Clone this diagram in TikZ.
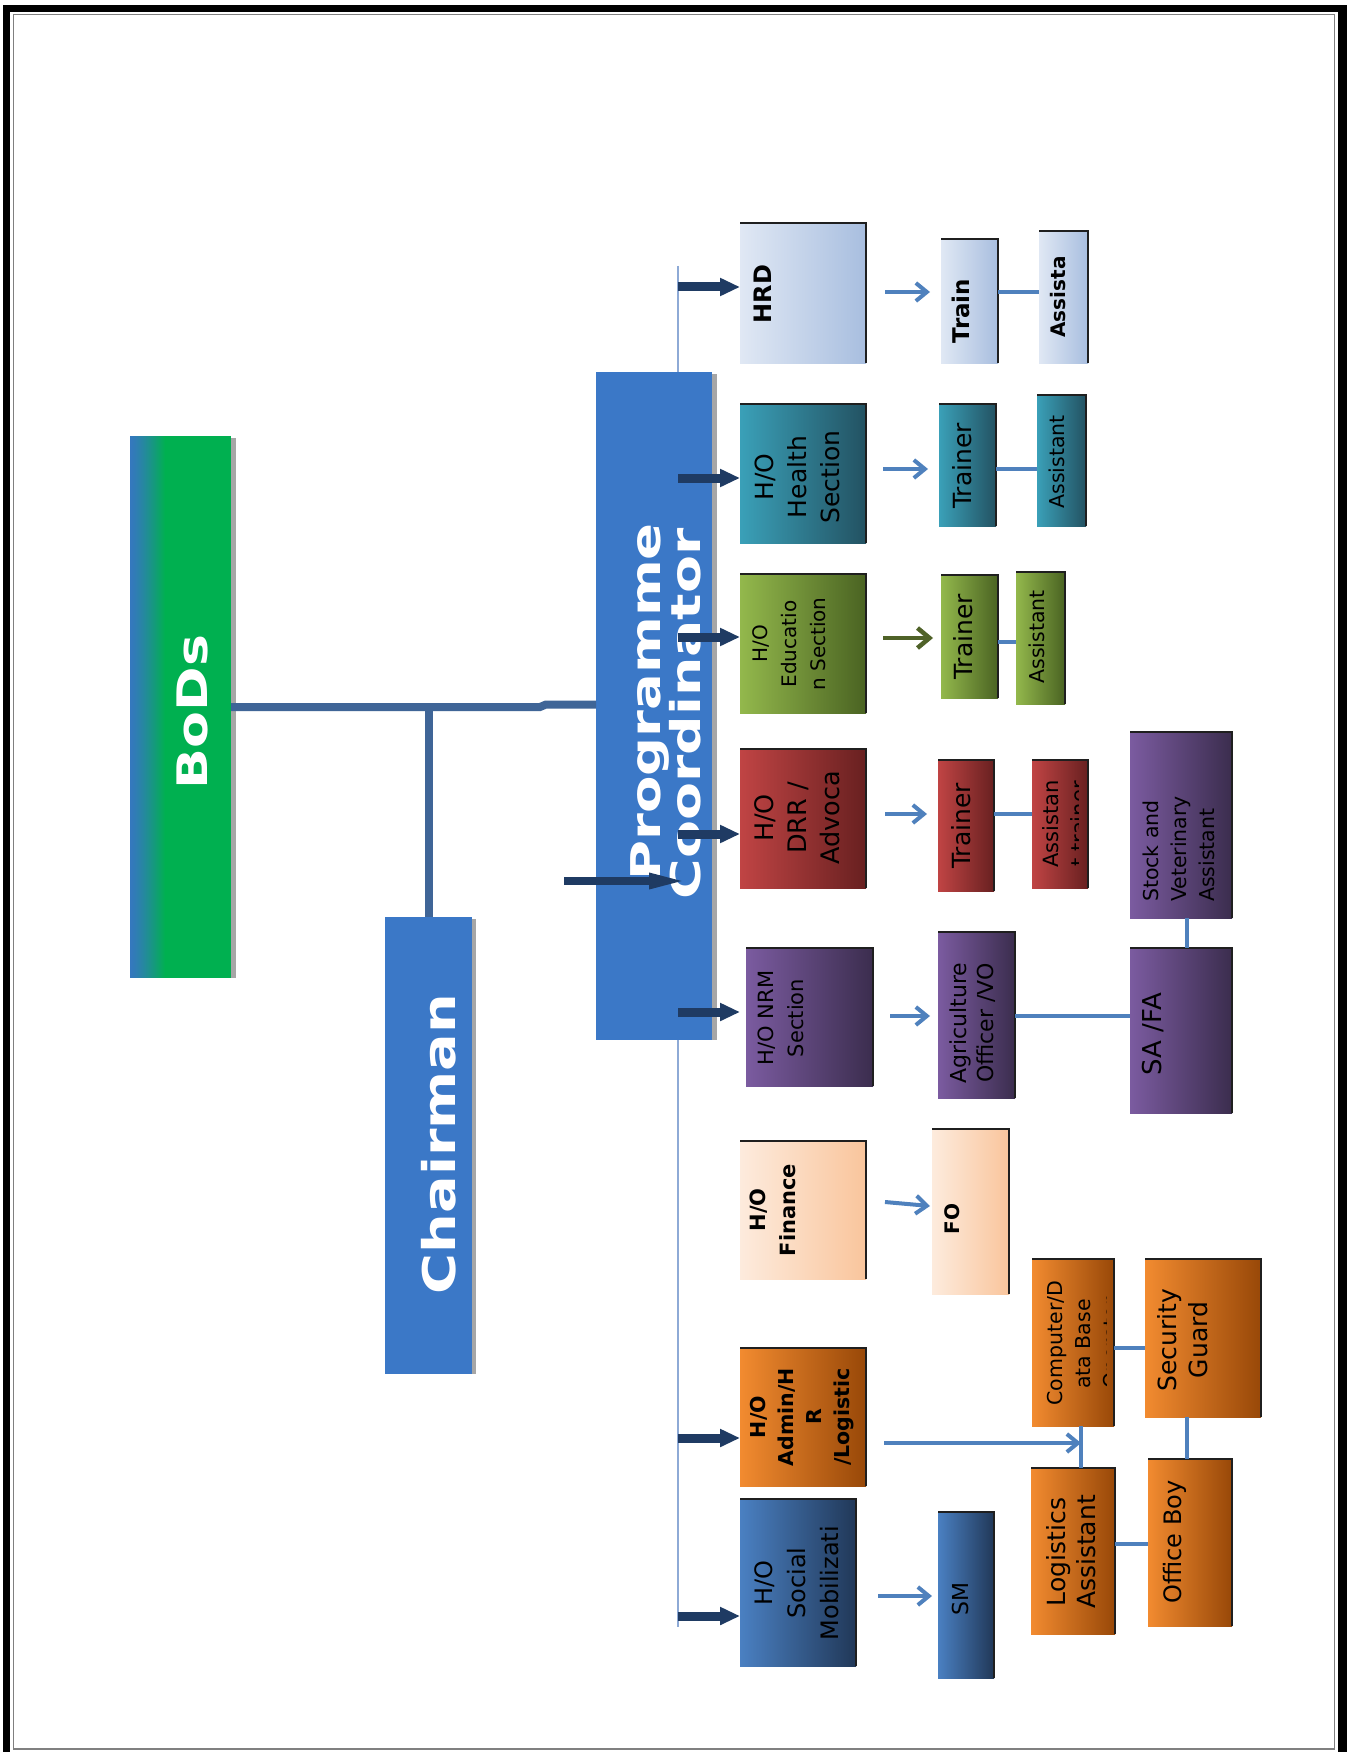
\documentclass[tikz,border=0pt]{standalone}
\usepackage{fontspec}
\setmainfont{DejaVu Sans}
\usetikzlibrary{arrows.meta,calc}
\definecolor{pcblue}{HTML}{3B78C7}
\definecolor{cnavy}{HTML}{1F3B63}
\definecolor{lblue}{HTML}{4F81BD}
\definecolor{arrolive}{HTML}{4F6228}
\definecolor{steel}{HTML}{3F6597}
\definecolor{trunkc}{HTML}{8EAAD6}
\definecolor{shadowc}{HTML}{A6A6A6}
\definecolor{bodgreen}{HTML}{00B050}
\definecolor{bodblue}{HTML}{3478BE}
\definecolor{hrdA}{HTML}{E0E8F4}\definecolor{hrdB}{HTML}{A8BEDF}
\definecolor{hlA}{HTML}{3AA0B8}\definecolor{hlB}{HTML}{235262}
\definecolor{edA}{HTML}{93B84C}\definecolor{edB}{HTML}{4A6322}
\definecolor{drA}{HTML}{C04444}\definecolor{drB}{HTML}{682020}
\definecolor{nrA}{HTML}{7B5BA0}\definecolor{nrB}{HTML}{3B2D4E}
\definecolor{fiA}{HTML}{FDEBDD}\definecolor{fiB}{HTML}{F9C59C}
\definecolor{adA}{HTML}{F28B30}\definecolor{adB}{HTML}{984808}
\definecolor{soA}{HTML}{4A80C2}\definecolor{soB}{HTML}{213858}
\tikzset{
  cbox/.style={rectangle, inner sep=0pt, outer sep=0pt, draw=none},
  topedge/.style={draw=black!88, line width=2.2pt},
  lbl/.style={rotate=90, align=center, inner sep=0pt, outer sep=0pt, text=black},
  lblw/.style={lbl, text=white},
  darr/.style={draw=cnavy, line width=9pt, -{Triangle[length=20pt,width=17pt]}},
  darrlong/.style={draw=cnavy, line width=8pt, -{Triangle[length=40pt,width=14pt]}},
  larr/.style={draw=lblue, line width=4pt, -{Straight Barb[length=11pt,width=18pt]}},
  garr/.style={draw=arrolive, line width=4.5pt, -{Straight Barb[length=12pt,width=20pt]}},
  conn/.style={draw=lblue, line width=4pt},
  bline/.style={draw=steel, line width=8pt},
  trunk/.style={draw=trunkc, line width=1.5pt},
}
\newcommand\myfs[2]{\fontsize{#1}{#2}\selectfont}
\newcommand\mkbox[7]{%
  \node[cbox, left color=#6, right color=#7,
        minimum width={(#4-#2)*1pt}, minimum height={(#5-#3)*1pt}]
        (#1) at ({(#2+#4)/2},{(#3+#5)/2}) {};
  \draw[topedge] (#1.north west) -- (#1.north east) -- (#1.south east);}
\begin{document}
\begin{tikzpicture}[x=1pt,y=-1pt]
\useasboundingbox (0,0) rectangle (1351,1752);
\fill[white] (0,0) rectangle (1351,1752);
% frame
\fill[black] (3,5) rectangle (1347,12);
\fill[black] (3,5) rectangle (10,1752);
\fill[black] (1338,5) rectangle (1347,1752);
\draw[gray, line width=1.5pt] (13.5,14.5) rectangle (1334.5,1749);
% trunk
\coordinate (trA) at (678,266);
\coordinate (trB) at (678,1627);
\draw[trunk] (trA) -- (trB);
% big boxes
\fill[shadowc] (231,438) rectangle (236,978);
\node[cbox, fill=bodgreen, minimum width=101pt, minimum height=542pt] (bods) at (180.5,707) {};
\foreach \i in {0,...,35}{%
  \pgfmathsetmacro\pp{100-100*(\i/35)^1.3}%
  \fill[bodblue!\pp!bodgreen] ({130+\i},436) rectangle ({131.3+\i},978);}
\fill[shadowc] (472,919) rectangle (476,1374);
\node[cbox, fill=pcblue, minimum width=87pt, minimum height=457pt] (chair) at (428.5,1145.5) {};
\fill[shadowc] (712,374) rectangle (717,1040);
\node[cbox, fill=pcblue, minimum width=116pt, minimum height=668pt] (pc) at (654,706) {};
% small boxes
\mkbox{hrd}{740}{223}{866}{363}{hrdA}{hrdB}
\mkbox{train}{941}{239}{998}{363}{hrdA}{hrdB}
\mkbox{assista}{1039}{231}{1088}{363}{hrdA}{hrdB}
\mkbox{health}{740}{404}{866}{543}{hlA}{hlB}
\mkbox{trh}{939}{404}{996}{526}{hlA}{hlB}
\mkbox{ash}{1037}{395}{1086}{526}{hlA}{hlB}
\mkbox{edu}{740}{574}{866}{713}{edA}{edB}
\mkbox{tre}{941}{575}{998}{698}{edA}{edB}
\mkbox{ase}{1016}{572}{1065}{704}{edA}{edB}
\mkbox{drr}{740}{749}{866}{888}{drA}{drB}
\mkbox{trd}{938}{760}{994}{891}{drA}{drB}
\mkbox{asd}{1032}{760}{1088}{888}{drA}{drB}
\mkbox{stock}{1130}{732}{1232}{918}{nrA}{nrB}
\mkbox{nrm}{746}{948}{873}{1086}{nrA}{nrB}
\mkbox{agri}{938}{932}{1015}{1098}{nrA}{nrB}
\mkbox{safa}{1130}{948}{1232}{1113}{nrA}{nrB}
\mkbox{fin}{740}{1141}{866}{1279}{fiA}{fiB}
\mkbox{fo}{932}{1129}{1009}{1294}{fiA}{fiB}
\mkbox{admin}{740}{1348}{866}{1486}{adA}{adB}
\mkbox{comp}{1032}{1259}{1114}{1426}{adA}{adB}
\mkbox{secg}{1145}{1259}{1261}{1417}{adA}{adB}
\mkbox{logi}{1031}{1468}{1115}{1634}{adA}{adB}
\mkbox{oboy}{1148}{1459}{1232}{1626}{adA}{adB}
\mkbox{social}{740}{1499}{856}{1666}{soA}{soB}
\mkbox{sm}{938}{1512}{994}{1678}{soA}{soB}
% big labels
\node[lblw, font=\myfs{42}{46}\bfseries] (bods-t) at (192,712) {\scalebox{1.28}[1]{BoDs}};
\node[lblw, font=\myfs{45}{50}\bfseries] (chair-t) at (439,1144) {\scalebox{1.24}[1]{Chairman}};
\node[lblw, font=\myfs{41}{40}\bfseries, anchor=base] (pc-t1) at (660,702) {\scalebox{1.33}[1]{Programme}};
\node[lblw, font=\myfs{41}{40}\bfseries, anchor=base] (pc-t2) at (700,714) {\scalebox{1.35}[1]{Coordinator}};
% box labels
\node[lbl, font=\myfs{24}{28}\bfseries] (hrd-t) at (763,294) {HRD};
\node[lbl, font=\myfs{23}{27}\bfseries] (train-t) at (961,311) {Train};
\node[lbl, font=\myfs{20}{24}\bfseries] (assista-t) at (1058,297) {Assista};
\node[lbl, font=\myfs{25}{33}] (health-t) at (797,477) {H/O\\Health\\Section};
\node[lbl, font=\myfs{25}{30}] (trh-t) at (962,466) {Trainer};
\node[lbl, font=\myfs{20.5}{24}] (ash-t) at (1057,462) {Assistant};
\node[lbl, font=\myfs{20}{29}] (edu-t) at (789,644) {H/O\\Educatio\\n Section};
\node[lbl, font=\myfs{25}{30}] (tre-t) at (963,637) {Trainer};
\node[lbl, font=\myfs{20.5}{24}] (ase-t) at (1037,637) {Assistant};
\node[lbl, font=\myfs{25.5}{33}] (drr-t) at (797,818) {H/O\\DRR /\\Advoca};
\node[lbl, font=\myfs{25}{30}] (trd-t) at (961,826) {Trainer};
\node[lbl, font=\myfs{21}{24}, anchor=base] (asd-t) at (1058,824) {Assistan};
\begin{scope}
\clip (1032,760) rectangle (1078,888);
\node[lbl, font=\myfs{21}{24}, anchor=base] (asd-t2) at (1086,824) {t trainer};
\end{scope}
\node[lbl, font=\myfs{21}{30}] (nrm-t) at (781,1018) {H/O NRM\\Section};
\node[lbl, font=\myfs{22}{27}] (agri-t) at (973,1023) {Agriculture\\Officer /VO};
\node[lbl, font=\myfs{26}{30}] (safa-t) at (1153,1034) {SA /FA};
\node[lbl, font=\myfs{20.5}{28}, align=left] (stock-t) at (1179,849) {Stock and\\Veterinary\\Assistant};
\node[lbl, font=\myfs{21}{30}\bfseries] (fin-t) at (773,1210) {H/O\\Finance};
\node[lbl, font=\myfs{20}{24}\bfseries] (fo-t) at (952,1219) {FO};
\node[lbl, font=\myfs{20.5}{28}\bfseries] (admin-t) at (802,1417) {H/O\\Admin/H\\R\\/Logistic};
\node[lbl, font=\myfs{20.5}{28}, anchor=base] (comp-t1) at (1062,1343) {Computer/D};
\node[lbl, font=\myfs{20.5}{28}, anchor=base] (comp-t2) at (1090,1344) {ata Base};
\begin{scope}
\clip (1032,1259) rectangle (1106,1426);
\node[lbl, font=\myfs{20.5}{28}, anchor=base] (comp-t3) at (1118,1343) {Operator};
\end{scope}
\node[lbl, font=\myfs{25}{31}] (secg-t) at (1183,1340) {Security\\Guard};
\node[lbl, font=\myfs{25}{30}] (logi-t) at (1071,1552) {Logistics\\Assistant};
\node[lbl, font=\myfs{24}{28}] (oboy-t) at (1175,1542) {Office Boy};
\node[lbl, font=\myfs{24}{33}] (social-t) at (797,1583) {H/O\\Social\\Mobilizati};
\node[lbl, font=\myfs{22}{26}] (sm-t) at (960,1599) {SM};
% BoDs / Chairman / PC connectors
\coordinate (k1) at (540,707);
\coordinate (k2) at (546,704.5);
\draw[bline] (bods.east) -- (k1) -- (k2) -- (k2 -| pc.west);
\draw[bline] (chair.north |- bods.east) -- (chair.north);
\coordinate (bpa) at (564,881);
\draw[darrlong] (bpa) -- ($(pc.west|-bpa)+(93,0)$);
% dark arrows from trunk
\foreach \n/\yy in {1/287,2/478,3/637,4/834,5/1012,6/1438,7/1616}
  \coordinate (t\n) at (678,\yy);
\draw[darr] (t1) -- (t1 -| hrd.west);
\draw[darr] (t2) -- (t2 -| health.west);
\draw[darr] (t3) -- (t3 -| edu.west);
\draw[darr] (t4) -- (t4 -| drr.west);
\draw[darr] (t5) -- ($(t5 -| nrm.west)+(-6,0)$);
\draw[darr] (t6) -- (t6 -| admin.west);
\draw[darr] (t7) -- (t7 -| social.west);
% rows
\coordinate (r1) at (0,292);
\coordinate (r2) at (0,469);
\coordinate (r3) at (0,638);
\coordinate (r3b) at (0,642);
\coordinate (r4) at (0,814);
\coordinate (r5) at (0,1016);
\coordinate (r6) at (0,1204);
\coordinate (r7) at (0,1443);
\coordinate (r8) at (0,1596);
\coordinate (h1) at (0,1348);
\coordinate (h2) at (0,1544);
\coordinate (v1) at (1187,0);
\coordinate (v2) at (1081,0);
% light arrows
\draw[larr] ($(hrd.east|-r1)+(19,0)$) -- ($(train.west|-r1)+(-11,0)$);
\draw[larr] ($(health.east|-r2)+(17,0)$) -- ($(trh.west|-r2)+(-11,0)$);
\draw[garr] ($(edu.east|-r3)+(17,0)$) -- ($(tre.west|-r3)+(-8,0)$);
\draw[larr] ($(drr.east|-r4)+(19,0)$) -- ($(trd.west|-r4)+(-11,0)$);
\draw[larr] ($(nrm.east|-r5)+(17,0)$) -- ($(agri.west|-r5)+(-8,0)$);
\draw[larr] ($(fin.east|-r6)+(19,-2)$) -- ($(fo.west|-r6)+(-2,2)$);
\draw[larr] ($(admin.east|-r7)+(18,0)$) -- (r7 -| v2);
\draw[larr] ($(social.east|-r8)+(22,0)$) -- ($(sm.west|-r8)+(-6,0)$);
% plain connectors
\draw[conn] (r1 -| train.east) -- (r1 -| assista.west);
\draw[conn] (r2 -| trh.east) -- (r2 -| ash.west);
\draw[conn] (r3b -| tre.east) -- (r3b -| ase.west);
\draw[conn] (r4 -| trd.east) -- (r4 -| asd.west);
\draw[conn] (r5 -| agri.east) -- (r5 -| safa.west);
\draw[conn] (v1 |- stock.south) -- (v1 |- safa.north);
\draw[conn] (h1 -| comp.east) -- (h1 -| secg.west);
\draw[conn] (v2 |- comp.south) -- (v2 |- logi.north);
\draw[conn] (v1 |- secg.south) -- (v1 |- oboy.north);
\draw[conn] (h2 -| logi.east) -- (h2 -| oboy.west);
\end{tikzpicture}
\end{document}
